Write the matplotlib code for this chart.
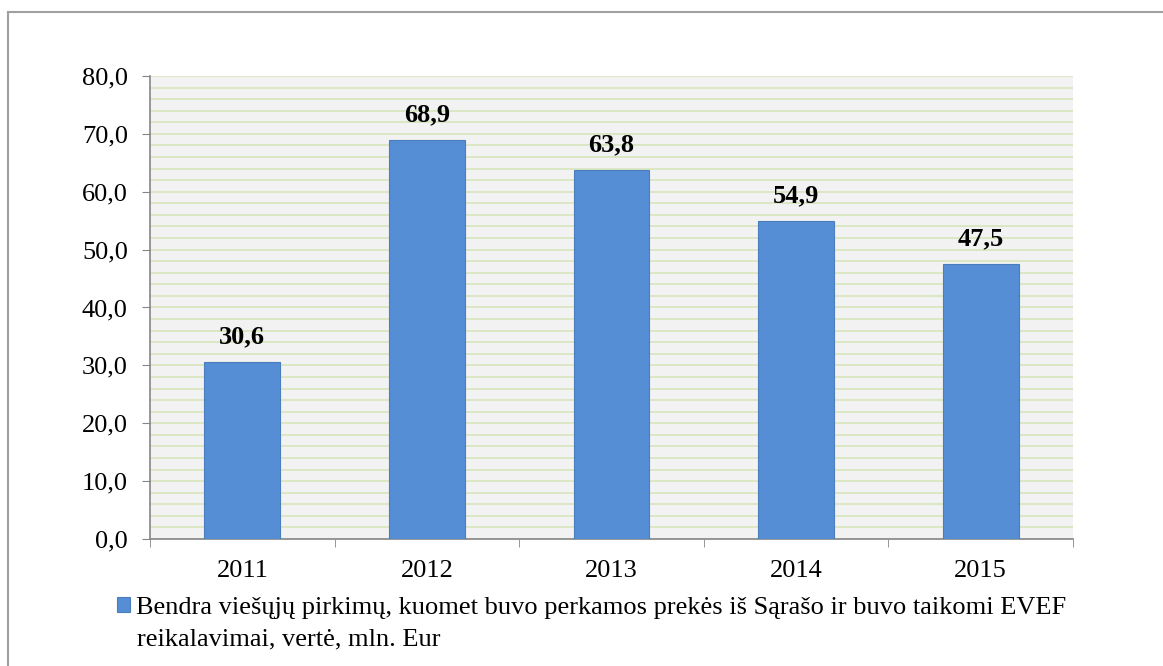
import matplotlib.pyplot as plt
from matplotlib.lines import Line2D
import numpy as np

years = ["2011", "2012", "2013", "2014", "2015"]
values = [30.6, 68.9, 63.8, 54.9, 47.5]
legend_line1 = "Bendra viešųjų pirkimų, kuomet buvo perkamos prekės iš Sąrašo ir buvo taikomi EVEF"
legend_line2 = "reikalavimai, vertė, mln. Eur"

plt.rcParams['font.family'] = ['Liberation Serif', 'DejaVu Serif']
FS = 19

fig = plt.figure(figsize=(11.63, 6.66), dpi=100)
ax = fig.add_axes([0.129, 0.1907, 0.7936, 0.6952])

x = np.arange(len(years))
bars = ax.bar(x, values, width=0.41, color="#558ED5", edgecolor="#4A7EBB",
              linewidth=0.8, zorder=3)

ax.set_facecolor("#F2F2F2")
ax.set_xlim(-0.5, len(years) - 0.5)
ax.set_ylim(0, 80)

# y axis
yt = np.arange(0, 81, 10)
ax.set_yticks(yt)
ax.set_yticklabels([f"{v:.1f}".replace(".", ",") for v in yt], fontsize=FS)
ax.set_yticks(np.arange(0, 81, 2), minor=True)
ax.tick_params(axis='y', which='minor', length=0)
ax.tick_params(axis='y', which='major', length=6, color="#868686", pad=10)
ax.grid(axis='y', which='both', color="#D7E4BD", linewidth=1.2, zorder=0)

# x axis
ax.set_xticks(x)
ax.set_xticklabels(years, fontsize=FS)
ax.tick_params(axis='x', which='major', length=0, pad=15)
ax.set_xticks(np.arange(-0.5, len(years)), minor=True)
ax.tick_params(axis='x', which='minor', length=6, color="#868686")

for s in ["top", "right"]:
    ax.spines[s].set_visible(False)
for s in ["left", "bottom"]:
    ax.spines[s].set_color("#868686")
    ax.spines[s].set_linewidth(1.2)

for b, v in zip(bars, values):
    ax.annotate(f"{v:.1f}".replace(".", ","), (b.get_x() + b.get_width() / 2, v),
                xytext=(0, 10), textcoords="offset points", ha="center", va="bottom",
                fontsize=FS, fontweight="bold")

fig.legend(handles=[bars], labels=[legend_line1], loc="upper left",
           bbox_to_anchor=(0.1006, 0.104), frameon=False, fontsize=FS,
           handlelength=0.5, handleheight=0.5, handletextpad=0.23,
           borderpad=0, borderaxespad=0)
fig.text(0.1178, 0.0315, legend_line2, fontsize=FS, va="baseline", ha="left")

# outer frame (top and left edges visible)
fig.add_artist(Line2D([0.007, 0.007], [0, 0.982], transform=fig.transFigure, color="#A0A0A0", linewidth=1.5))
fig.add_artist(Line2D([0.007, 1], [0.982, 0.982], transform=fig.transFigure, color="#A0A0A0", linewidth=1.5))

fig.savefig("out.png", dpi=100)
